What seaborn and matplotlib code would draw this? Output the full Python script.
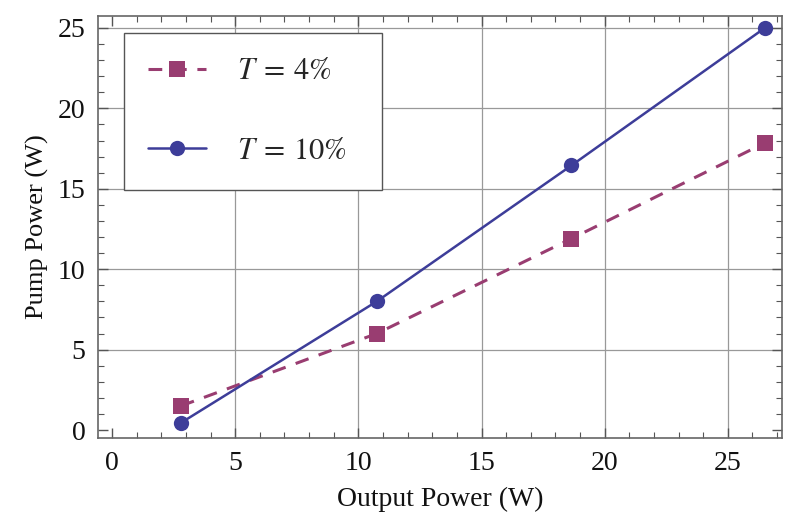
import numpy as np
import pandas as pd
import matplotlib
matplotlib.use("Agg")
import matplotlib.pyplot as plt
from matplotlib.ticker import MultipleLocator
import seaborn as sns

# --------------------------------------------------
# DATA
# --------------------------------------------------

output_power = [2.8, 10.75, 18.65, 26.5]
pump_t4 = [1.5, 6.0, 11.9, 17.85]
pump_t10 = [0.45, 8.0, 16.45, 25.0]

labels = [r"$T\:=\:4\%$", r"$T\:=\:10\%$"]
colors = ["#993D71", "#3D3D99"]

df = pd.DataFrame({
    "x": output_power * 2,
    "y": pump_t4 + pump_t10,
    "series": [labels[0]] * 4 + [labels[1]] * 4,
})

# --------------------------------------------------
# STYLE
# --------------------------------------------------

sns.set_style("ticks")
plt.rcParams["font.family"] = ["Liberation Serif", "DejaVu Serif"]
plt.rcParams["mathtext.fontset"] = "stix"

fig = plt.figure(figsize=(8, 5.31), dpi=100)
ax = fig.add_axes([0.1225, 0.175, 0.855, 0.795])

sns.lineplot(
    data=df[df["series"] == labels[0]], x="x", y="y",
    color=colors[0], marker="s", markersize=11, markeredgewidth=0,
    linestyle=(0, (4.5, 3.5)), linewidth=2.2, label=labels[0], ax=ax
)
sns.lineplot(
    data=df[df["series"] == labels[1]], x="x", y="y",
    color=colors[1], marker="o", markersize=11, markeredgewidth=0,
    linewidth=1.8, label=labels[1], ax=ax
)

ax.set_xlim(-0.57, 27.2)
ax.set_ylim(-0.5, 25.75)

ax.xaxis.set_major_locator(MultipleLocator(5))
ax.xaxis.set_minor_locator(MultipleLocator(1))
ax.yaxis.set_major_locator(MultipleLocator(5))
ax.yaxis.set_minor_locator(MultipleLocator(1))

ax.tick_params(which="both", direction="in", top=True, right=True,
               color="#555555")
ax.tick_params(which="major", length=7, width=1, labelsize=20,
               labelcolor="#111111", pad=9)
ax.tick_params(which="minor", length=4, width=0.8)

for s in ax.spines.values():
    s.set_color("#666666")
    s.set_linewidth(1.2)

for v in [5, 10, 15, 20, 25]:
    ax.axvline(v, color="#999999", lw=0.9, zorder=0)
    ax.axhline(v, color="#999999", lw=0.9, zorder=0)

ax.set_xlabel("Output Power (W)", fontsize=20, color="#111111", labelpad=8)
ax.set_ylabel("Pump Power (W)", fontsize=19, color="#111111", labelpad=6)

leg = ax.legend(
    loc="upper left", bbox_to_anchor=(0.038, 0.5, 0.377, 0.46),
    mode="expand", fontsize=22,
    frameon=True, fancybox=False, edgecolor="#555555", framealpha=1,
    borderpad=0.8, labelspacing=1.65, handlelength=1.9, handletextpad=1.0,
    borderaxespad=0
)
leg.get_frame().set_linewidth(1.0)

plt.savefig("out.png", dpi=100)
plt.close()
